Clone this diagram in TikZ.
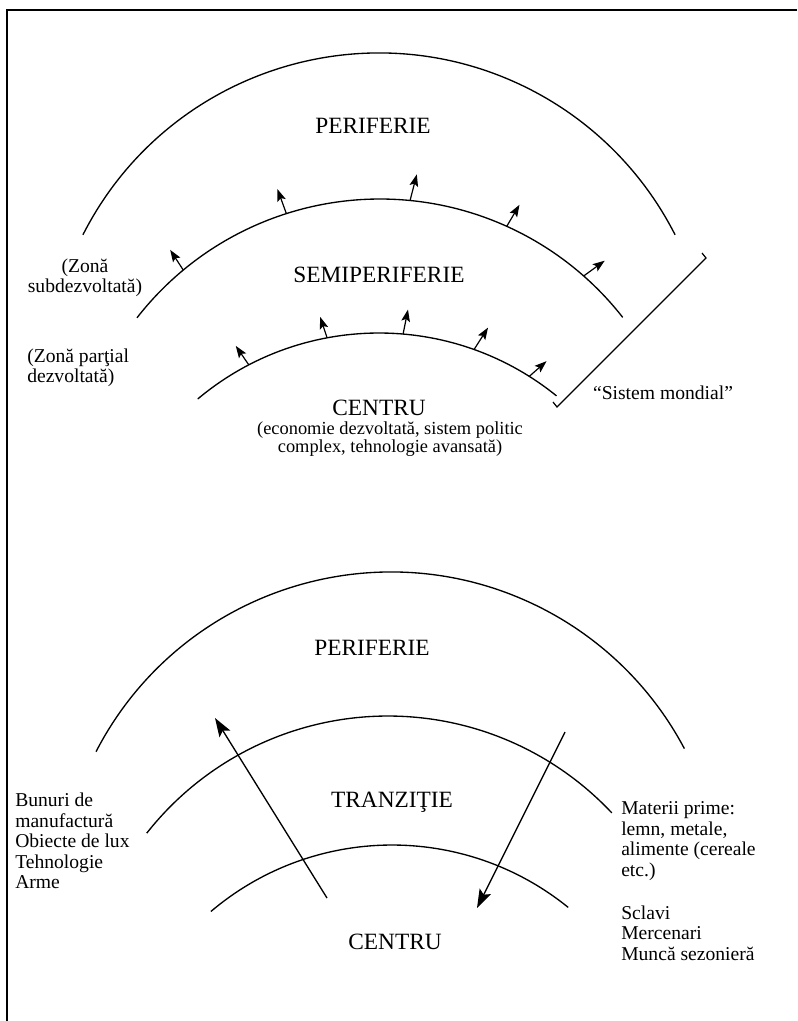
\documentclass[tikz,border=0pt]{standalone}
\usepackage{fontspec}
\setmainfont{Liberation Serif}
\usetikzlibrary{arrows.meta, calc}

\begin{document}
\begin{tikzpicture}[x=0.75pt, y=0.75pt]
      \tikzset{ ring/.style ={draw=black, line width=1pt                                                             } }
      \tikzset{ push/.style ={draw=black, line width=0.9pt, -{Stealth[length=9pt, width=6.5pt, inset=1.8pt]}        } }
      \tikzset{ flow/.style ={draw=black, line width=1pt, -{Stealth[length=14pt, width=9.5pt, inset=2.8pt]}         } }
      \tikzset{ zone/.style ={text=black, inner sep=0pt, font=\fontsize{17.5}{20}\selectfont                        } }
      \tikzset{ note/.style ={text=black, inner sep=0pt, font=\fontsize{14.7}{15.3}\selectfont                      } }

      \path[use as bounding box] (0, 0) rectangle (797, -1021);

      % page frame
      \draw[line width=0.8pt] (797, -10) -- (7, -10) -- (7, -1021);

      % upper picture: world system
      \coordinate (oc1) at (379, -385);
      \coordinate (mc1) at (380, -507);
      \coordinate (ic1) at (379, -615);
      \draw[ring] (oc1) ++(153.1:332) arc[start angle=153.1, end angle=26.9, radius=332];
      \draw[ring] (mc1) ++(142.1:308) arc[start angle=142.1, end angle=38.0, radius=308];
      \draw[ring] (ic1) ++(130.0:282) arc[start angle=130.0, end angle=51.0, radius=282];

      \foreach \pos/\dir/\len [count=\i] in {129.7/123/24, 107.7/110/26, 84.4/75.5/27, 65.7/59.4/25, 48.6/36/26} {
        \path (mc1) ++(\pos:308) coordinate (sp\i) ++(\dir:\len) coordinate (st\i);
        \draw[push] (sp\i) -- (st\i);
      }
      \foreach \pos/\dir/\len [count=\i] in {117.5/124.4/23, 100.6/108.4/22, 85.1/78.7/25, 70.3/57.5/26, 57.8/41.4/23} {
        \path (ic1) ++(\pos:282) coordinate (cp\i) ++(\dir:\len) coordinate (ct\i);
        \draw[push] (cp\i) -- (ct\i);
      }

      % bracket round the whole system
      \coordinate (brtop)  at (706, -258);
      \coordinate (brbot)  at (557, -407);
      \coordinate (brtopt) at (702, -253);
      \coordinate (brbott) at (553, -402);
      \draw[line width=0.9pt] (brtopt) -- (brtop) -- (brbot) -- (brbott);

      \node[zone] (per1) at (373, -126) {PERIFERIE};
      \node[zone] (semi) at (379, -275) {SEMIPERIFERIE};
      \node[zone] (cen1) at (379, -408) {CENTRU};
      \node[note, align=center, font=\fontsize{13.8}{13.5}\selectfont] (cen1txt) at (390, -439) {(economie dezvoltată, sistem politic\\complex, tehnologie avansată)};
      \node[note, align=center             ] (sub)  at (85, -278)  {(Zonă\\subdezvoltată)};
      \node[note, align=left, anchor=west  ] (part) at (27, -368)  {(Zonă parţial\\dezvoltată)};
      \node[note                           ] (mond) at (663, -393) {“Sistem mondial”};

      % lower picture: exchanges
      \coordinate (oc2) at (391, -904);
      \coordinate (mc2) at (388, -1023);
      \coordinate (ic2) at (392, -1125);
      \draw[ring] (oc2) ++(152.7:332) arc[start angle=152.7, end angle=27.9, radius=332];
      \draw[ring] (mc2) ++(141.8:307) arc[start angle=141.8, end angle=43.2, radius=307];
      \draw[ring] (ic2) ++(130.3:280) arc[start angle=130.3, end angle=51.0, radius=280];

      \coordinate (outtail) at (327, -898);
      \coordinate (outtip)  at (215, -718);
      \coordinate (intail)  at (565, -732);
      \coordinate (intip)   at (477, -908);
      \draw[flow] (outtail) -- (outtip);
      \draw[flow] (intail)  -- (intip);

      \node[zone] (per2) at (372, -648) {PERIFERIE};
      \node[zone] (tran) at (392, -802) {TRANZIŢIE};
      \node[zone] (cen2) at (395, -942) {CENTRU};
      \node[note, align=left, anchor=west] (goods) at (15, -841)  {Bunuri de\\manufactură\\Obiecte de lux\\Tehnologie\\Arme};
      \node[note, align=left, anchor=west] (raw)   at (621, -841) {Materii prime:\\lemn, metale,\\alimente (cereale\\etc.)};
      \node[note, align=left, anchor=west] (work)  at (621, -933) {Sclavi\\Mercenari\\Muncă sezonieră};
\end{tikzpicture}
\end{document}
